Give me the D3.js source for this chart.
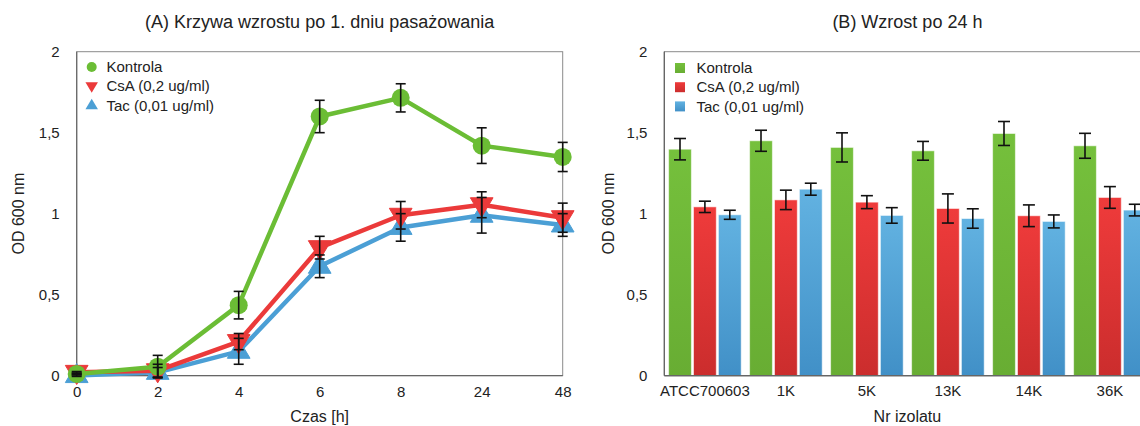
<!DOCTYPE html>
<html><head><meta charset="utf-8">
<script src="https://cdn.jsdelivr.net/npm/d3@7"></script>
<style>
html,body{margin:0;padding:0;background:#fff;}
svg{display:block;font-family:"Liberation Sans",Arial,Helvetica,sans-serif;}
</style></head>
<body><svg id="c" width="1140" height="426"></svg>
<script>
// ---- data ----
const timeLabels = ["0","2","4","6","8","24","48"];
const kontrolaA    = [0.01, 0.055, 0.435, 1.60, 1.715, 1.42, 1.35];
const kontrolaAErr = [0.005, 0.07, 0.085, 0.10, 0.087, 0.11, 0.09];
const csaA         = [0.02, 0.03, 0.21, 0.79, 0.99, 1.055, 0.975];
const csaAErr      = [0.005, 0.04, 0.05, 0.07, 0.085, 0.08, 0.09];
const tacA         = [0.0, 0.02, 0.15, 0.675, 0.915, 0.99, 0.93];
const tacAErr      = [0.005, 0.03, 0.08, 0.07, 0.085, 0.11, 0.07];

const isolates     = ["ATCC700603","1K","5K","13K","14K","36K"];
const kontrolaB    = [1.398, 1.45, 1.409, 1.388, 1.495, 1.419];
const kontrolaBErr = [0.066, 0.065, 0.09, 0.058, 0.074, 0.077];
const csaB         = [1.042, 1.085, 1.071, 1.032, 0.987, 1.10];
const csaBErr      = [0.035, 0.06, 0.04, 0.09, 0.067, 0.067];
const tacB         = [0.993, 1.151, 0.989, 0.97, 0.952, 1.022];
const tacBErr      = [0.028, 0.037, 0.048, 0.06, 0.04, 0.036];

const seriesNames = ["Kontrola","CsA (0,2 ug/ml)","Tac (0,01 ug/ml)"];
const yTicks = [0, 0.5, 1, 1.5, 2];
const yTickLabels = ["0","0,5","1","1,5","2"];
const titleA = "(A) Krzywa wzrostu po 1. dniu pasażowania";
const titleB = "(B) Wzrost po 24 h";
const xTitleA = "Czas [h]";
const xTitleB = "Nr izolatu";
const yTitle = "OD 600 nm";

// ---- styles ----
const colors = ["#6bbd35","#eb3a3a","#4b9fd5"];
const svg = d3.select("#c");
const defs = svg.append("defs");
const grads = [["#75c03c","#68ad33"],["#ef3b3b","#cb2d2d"],["#62b2e1","#4190c7"]];
grads.forEach((g,i)=>{
  const lg = defs.append("linearGradient").attr("id","g"+i).attr("x1",0).attr("y1",0).attr("x2",0).attr("y2",1);
  lg.append("stop").attr("offset","0%").attr("stop-color",g[0]);
  lg.append("stop").attr("offset","100%").attr("stop-color",g[1]);
});

const plotTop = 51.7, plotBottom = 375.6;
const y = d3.scaleLinear().domain([0,2]).range([plotBottom, plotTop]);

function yAxis(g, left, right){
  g.append("rect").attr("x",left).attr("y",plotTop).attr("width",right-left).attr("height",plotBottom-plotTop)
    .attr("fill","none").attr("stroke","#8a8a8a").attr("stroke-width",1);
  g.append("line").attr("x1",left).attr("x2",left).attr("y1",plotTop).attr("y2",plotBottom).attr("stroke","#666").attr("stroke-width",1.2);
  g.append("line").attr("x1",left).attr("x2",right).attr("y1",plotBottom).attr("y2",plotBottom).attr("stroke","#666").attr("stroke-width",1.2);
  const ax = d3.axisLeft(y).tickValues(yTicks).tickFormat((d,i)=>yTickLabels[i]).tickSize(0).tickPadding(17);
  const a = g.append("g").attr("transform",`translate(${left},0)`).call(ax);
  a.select(".domain").remove();
  a.selectAll("text").attr("font-size",15).attr("fill","#222").attr("font-family","Liberation Sans, Arial, sans-serif");
}

function errBars(g, xs, vals, errs, cap){
  vals.forEach((v,i)=>{
    const x = xs[i];
    const y1 = y(v+errs[i]), y2 = y(v-errs[i]);
    g.append("line").attr("x1",x).attr("x2",x).attr("y1",y1).attr("y2",y2).attr("stroke","#111").attr("stroke-width",1.6);
    g.append("line").attr("x1",x-cap).attr("x2",x+cap).attr("y1",y1).attr("y2",y1).attr("stroke","#111").attr("stroke-width",1.6);
    g.append("line").attr("x1",x-cap).attr("x2",x+cap).attr("y1",y2).attr("y2",y2).attr("stroke","#111").attr("stroke-width",1.6);
  });
}

// ---------------- Panel A ----------------
const gA = svg.append("g");
const leftA = 76.7, rightA = 562.7;
const xA = d3.scalePoint().domain(timeLabels).range([leftA, rightA]);
yAxis(gA, leftA, rightA);
const axA = gA.append("g").attr("transform",`translate(0,${plotBottom})`)
  .call(d3.axisBottom(xA).tickSize(0).tickPadding(11));
axA.select(".domain").remove();
axA.selectAll("text").attr("font-size",15).attr("fill","#222").attr("font-family","Liberation Sans, Arial, sans-serif");

const line = d3.line().x((d,i)=>xA(timeLabels[i])).y(d=>y(d));
const triDown = d3.symbol().type({draw(ctx,size){const s=Math.sqrt(size);ctx.moveTo(-s/1.6,-s/2.6);ctx.lineTo(s/1.6,-s/2.6);ctx.lineTo(0,s/1.5);ctx.closePath();}});
const triUp = d3.symbol().type({draw(ctx,size){const s=Math.sqrt(size);ctx.moveTo(-s/1.6,s/2.6);ctx.lineTo(s/1.6,s/2.6);ctx.lineTo(0,-s/1.5);ctx.closePath();}});

[[tacA,2],[csaA,1],[kontrolaA,0]].forEach(([vals,ci])=>{
  gA.append("path").datum(vals).attr("d",line).attr("fill","none").attr("stroke",colors[ci])
    .attr("stroke-width",4.5).attr("stroke-linejoin","round");
  vals.forEach((v,i)=>{
    const cx = xA(timeLabels[i]), cy = y(v);
    if(ci===0){
      gA.append("circle").attr("cx",cx).attr("cy",cy).attr("r",9).attr("fill",colors[0]);
    } else {
      gA.append("path").attr("d",(ci===1?triDown:triUp).size(330)()).attr("transform",`translate(${cx},${cy})`)
        .attr("fill",colors[ci]).attr("stroke",colors[ci]).attr("stroke-width",1).attr("stroke-linejoin","round");
    }
  });
});
const xsA = timeLabels.map(t=>xA(t));
errBars(gA, xsA, tacA, tacAErr, 5);
errBars(gA, xsA, csaA, csaAErr, 5);
errBars(gA, xsA, kontrolaA, kontrolaAErr, 5);

const legA = gA.append("g");
seriesNames.forEach((n,i)=>{
  const ly = 67 + i*19.2;
  if(i===0) legA.append("circle").attr("cx",91.7).attr("cy",ly).attr("r",5).attr("fill",colors[0]);
  else legA.append("path").attr("d",(i===1?triDown:triUp).size(100)()).attr("transform",`translate(91.7,${ly})`).attr("fill",colors[i]);
  legA.append("text").attr("x",106.5).attr("y",ly).attr("dy","0.35em").attr("font-size",15).attr("fill","#222").text(n);
});
gA.append("text").attr("x",(leftA+rightA)/2).attr("y",28).attr("text-anchor","middle").attr("font-size",18).attr("fill","#222").text(titleA);
gA.append("text").attr("x",(leftA+rightA)/2).attr("y",422).attr("text-anchor","middle").attr("font-size",16).attr("fill","#222").text(xTitleA);
gA.append("text").attr("transform",`translate(24,${(plotTop+plotBottom)/2}) rotate(-90)`).attr("text-anchor","middle").attr("font-size",16).attr("fill","#222").text(yTitle);

// ---------------- Panel B ----------------
const gB = svg.append("g");
const leftB = 664.4, rightB = 664.4 + 81*isolates.length;
yAxis(gB, leftB, rightB);
const xB = d3.scaleBand().domain(isolates).range([leftB, rightB]).paddingInner(0.104).paddingOuter(0.052);
const xS = d3.scaleBand().domain([0,1,2]).range([0, xB.bandwidth()]).paddingInner(0.085);
const axB = gB.append("g").attr("transform",`translate(0,${plotBottom})`)
  .call(d3.axisBottom(xB).tickSize(0).tickPadding(9.5));
axB.select(".domain").remove();
axB.selectAll("text").attr("font-size",15).attr("fill","#222").attr("font-family","Liberation Sans, Arial, sans-serif");

const bSeries = [[kontrolaB,kontrolaBErr],[csaB,csaBErr],[tacB,tacBErr]];
bSeries.forEach(([vals],si)=>{
  gB.selectAll(null).data(vals).enter().append("rect")
    .attr("x",(d,i)=>xB(isolates[i])+xS(si)).attr("width",xS.bandwidth())
    .attr("y",d=>y(d)).attr("height",d=>plotBottom-y(d))
    .attr("fill",`url(#g${si})`).attr("stroke","rgba(255,255,255,0.55)").attr("stroke-width",1);
});
bSeries.forEach(([vals,errs],si)=>{
  errBars(gB, isolates.map(c=>xB(c)+xS(si)+xS.bandwidth()/2), vals, errs, 6);
});
gB.append("line").attr("x1",leftB).attr("x2",rightB).attr("y1",plotBottom).attr("y2",plotBottom).attr("stroke","#666").attr("stroke-width",1.2);
gB.append("line").attr("x1",leftB).attr("x2",leftB).attr("y1",plotTop).attr("y2",plotBottom).attr("stroke","#666").attr("stroke-width",1.2);

const legB = gB.append("g");
seriesNames.forEach((n,i)=>{
  const ly = 68 + i*19.2;
  legB.append("rect").attr("x",675).attr("y",ly-5).attr("width",10).attr("height",10).attr("fill",`url(#g${i})`);
  legB.append("text").attr("x",696.5).attr("y",ly).attr("dy","0.35em").attr("font-size",15).attr("fill","#222").text(n);
});
gB.append("text").attr("x",(leftB+rightB)/2).attr("y",28).attr("text-anchor","middle").attr("font-size",18).attr("fill","#222").text(titleB);
gB.append("text").attr("x",(leftB+rightB)/2).attr("y",422).attr("text-anchor","middle").attr("font-size",16).attr("fill","#222").text(xTitleB);
gB.append("text").attr("transform",`translate(614,${(plotTop+plotBottom)/2}) rotate(-90)`).attr("text-anchor","middle").attr("font-size",16).attr("fill","#222").text(yTitle);
</script></body></html>
